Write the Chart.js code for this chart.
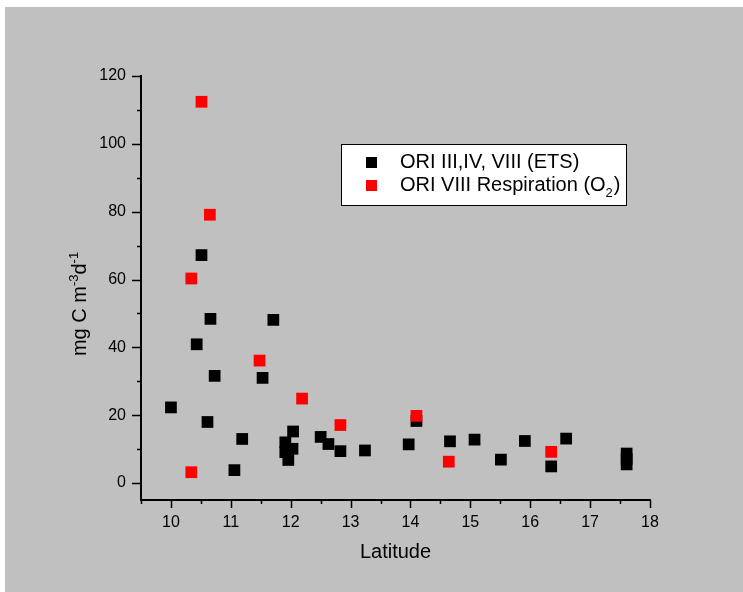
<!DOCTYPE html>
<html>
<head>
<meta charset="utf-8">
<script src="https://cdn.jsdelivr.net/npm/chart.js@4.4.1/dist/chart.umd.min.js"></script>
<style>
  body { margin: 0; background: #ffffff; }
  canvas { display: block; }
</style>
</head>
<body>
<canvas id="grafico" width="743" height="592"></canvas>
<script>
// datos
const etsLatitude = [10.0, 10.43, 10.51, 10.61, 10.66, 10.73, 11.06, 11.19, 11.53, 11.71,
  11.91, 11.91, 11.96, 12.03, 12.04, 12.5, 12.63, 12.83, 13.24, 13.97,
  14.1, 14.66, 15.07, 15.51, 15.91, 16.35, 16.6, 17.61, 17.61, 17.61];
const etsValues = [22.3, 40.9, 67.2, 18.0, 48.4, 31.6, 3.8, 13.0, 31.0, 48.1,
  12.0, 9.1, 6.8, 10.1, 15.2, 13.6, 11.5, 9.4, 9.6, 11.4,
  18.3, 12.3, 12.8, 6.9, 12.4, 4.9, 13.1, 8.7, 7.1, 5.5];
const respLatitude = [10.34, 10.34, 10.51, 10.65, 11.48, 12.19, 12.83, 14.1, 14.64, 16.35];
const respValues = [60.3, 3.2, 112.4, 79.1, 36.1, 24.9, 17.1, 19.8, 6.3, 9.2];
const xTicks = [10, 11, 12, 13, 14, 15, 16, 17, 18];
const yTicks = [0, 20, 40, 60, 80, 100, 120];

const etsLabel = "ORI III,IV, VIII (ETS)";
const respLabel = "ORI VIII Respiration (O";

const FONT = "'Liberation Sans', Arial, sans-serif";

function toPoints(xs, ys) {
  return xs.map((x, i) => ({ x: x, y: ys[i] }));
}

// fondo gris, ticks, titulos y leyenda
const origenPlugin = {
  id: "origen",
  beforeDraw(chart) {
    const ctx = chart.ctx;
    ctx.save();
    ctx.fillStyle = "#ffffff";
    ctx.fillRect(0, 0, chart.width, chart.height);
    ctx.fillStyle = "#c0c0c0";
    ctx.fillRect(5, 7, chart.width - 5, chart.height - 7);
    ctx.restore();
  },
  afterDraw(chart) {
    const ctx = chart.ctx;
    const xs = chart.scales.x;
    const ys = chart.scales.y;
    const area = chart.chartArea;
    ctx.save();
    ctx.strokeStyle = "#000000";
    ctx.lineWidth = 1.5;

    // ticks del eje x (mayores y menores)
    for (let v = 9.5; v <= 18.001; v += 0.5) {
      const px = Math.round(xs.getPixelForValue(v)) + 0.5;
      const len = xTicks.includes(v) ? 8 : 4;
      ctx.beginPath();
      ctx.moveTo(px, area.bottom);
      ctx.lineTo(px, area.bottom + len);
      ctx.stroke();
    }
    // ticks del eje y
    for (let v = 0; v <= 120; v += 10) {
      const py = Math.round(ys.getPixelForValue(v)) + 0.5;
      const len = yTicks.includes(v) ? 9 : 4;
      ctx.beginPath();
      ctx.moveTo(area.left, py);
      ctx.lineTo(area.left - len, py);
      ctx.stroke();
    }

    // titulo eje x
    ctx.fillStyle = "#000000";
    ctx.font = "20px " + FONT;
    ctx.textAlign = "center";
    ctx.textBaseline = "middle";
    ctx.fillText("Latitude", (area.left + area.right) / 2, 552);

    // titulo eje y con superindices
    ctx.translate(79, 304);
    ctx.rotate(-Math.PI / 2);
    const partes = [
      { t: "mg C m", sup: false },
      { t: "-3", sup: true },
      { t: "d", sup: false },
      { t: "-1", sup: true }
    ];
    let total = 0;
    partes.forEach((p) => {
      ctx.font = (p.sup ? "13px " : "20px ") + FONT;
      p.w = ctx.measureText(p.t).width;
      total += p.w;
    });
    let cx = -total / 2;
    ctx.textAlign = "left";
    ctx.textBaseline = "alphabetic";
    partes.forEach((p) => {
      ctx.font = (p.sup ? "13px " : "20px ") + FONT;
      ctx.fillText(p.t, cx, p.sup ? -1 : 7);
      cx += p.w;
    });
    ctx.restore();

    // leyenda
    ctx.save();
    ctx.fillStyle = "#ffffff";
    ctx.fillRect(341, 144, 285, 61);
    ctx.strokeStyle = "#000000";
    ctx.lineWidth = 1;
    ctx.strokeRect(341.5, 144.5, 285, 61);

    const sets = chart.data.datasets;
    ctx.font = "20px " + FONT;
    ctx.textAlign = "left";
    ctx.textBaseline = "middle";

    ctx.fillStyle = sets[0].backgroundColor;
    ctx.fillRect(366, 157, 11, 11);
    ctx.fillStyle = "#000000";
    ctx.fillText(sets[0].label, 400, 162);

    ctx.fillStyle = sets[1].backgroundColor;
    ctx.fillRect(366, 180, 11, 11);
    ctx.fillStyle = "#000000";
    ctx.fillText(respLabel, 400, 185);
    const w = ctx.measureText(respLabel).width;
    ctx.font = "13px " + FONT;
    ctx.fillText("2", 400 + w, 193);
    const w2 = ctx.measureText("2").width;
    ctx.font = "20px " + FONT;
    ctx.fillText(")", 400 + w + w2 + 1, 185);
    ctx.restore();
  }
};

const grafico = new Chart(document.getElementById("grafico"), {
  type: "scatter",
  data: {
    datasets: [
      {
        label: etsLabel,
        data: toPoints(etsLatitude, etsValues),
        backgroundColor: "#000000",
        borderColor: "#000000",
        borderWidth: 0,
        pointStyle: "rect",
        pointRadius: 8.3,
        order: 1
      },
      {
        label: respLabel + "2)",
        data: toPoints(respLatitude, respValues),
        backgroundColor: "#ff0000",
        borderColor: "#ff0000",
        borderWidth: 0,
        pointStyle: "rect",
        pointRadius: 8.3,
        order: 0
      }
    ]
  },
  options: {
    responsive: false,
    animation: false,
    devicePixelRatio: 1,
    layout: { padding: { top: 76, right: 93, left: 0, bottom: 0 } },
    plugins: {
      legend: { display: false },
      tooltip: { enabled: false }
    },
    scales: {
      x: {
        type: "linear",
        min: 9.5,
        max: 18,
        afterBuildTicks: (scale) => { scale.ticks = xTicks.map((v) => ({ value: v })); },
        afterFit: (scale) => { scale.height = 92; },
        grid: { display: false, drawTicks: false },
        border: { display: true, color: "#000000", width: 2 },
        ticks: {
          autoSkip: false,
          maxRotation: 0,
          padding: 13,
          color: "#000000",
          font: { family: FONT, size: 16 }
        }
      },
      y: {
        type: "linear",
        min: -5,
        max: 120,
        afterBuildTicks: (scale) => { scale.ticks = yTicks.map((v) => ({ value: v })); },
        afterFit: (scale) => { scale.width = 141; },
        grid: { display: false, drawTicks: false },
        border: { display: true, color: "#000000", width: 2 },
        ticks: {
          autoSkip: false,
          padding: 15,
          color: "#000000",
          font: { family: FONT, size: 16 }
        }
      }
    }
  },
  plugins: [origenPlugin]
});
</script>
</body>
</html>
